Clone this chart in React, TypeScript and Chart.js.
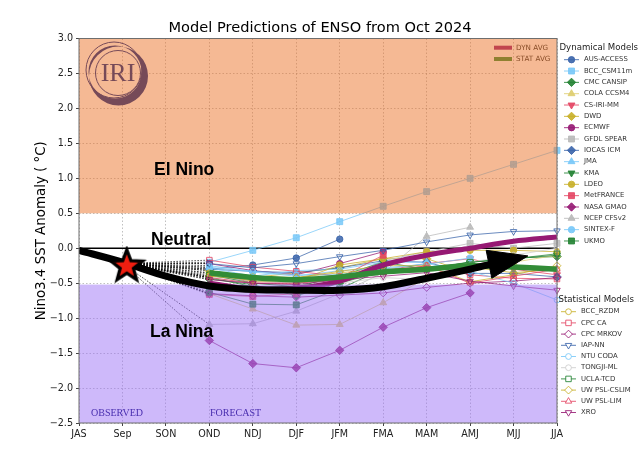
import React, { useEffect, useRef } from "react";
import { Chart, registerables } from "chart.js";
import { drawPoint } from "chart.js/helpers";

Chart.register(...registerables);

const seasons = ["JAS", "Sep", "SON", "OND", "NDJ", "DJF", "JFM", "FMA", "MAM", "AMJ", "MJJ", "JJA"];
const yTicks = [3, 2.5, 2, 1.5, 1, 0.5, 0, -0.5, -1, -1.5, -2, -2.5];
const FIRST_FORECAST = 3;

const observedStar = { x: 1.1, y: -0.25 };
const blackTrend = [
  { x: 0, y: -0.03 }, { x: 1, y: -0.2 }, { x: 2, y: -0.4 }, { x: 3, y: -0.54 }, { x: 4, y: -0.59 },
  { x: 5, y: -0.6 }, { x: 6, y: -0.6 }, { x: 7, y: -0.55 }, { x: 8, y: -0.43 }, { x: 9, y: -0.3 }, { x: 9.45, y: -0.23 },
];
const arrowHead = [
  { x: 9.37, y: -0.03 }, { x: 10.33, y: -0.11 }, { x: 9.5, y: -0.43 }, { x: 9.37, y: -0.03 },
];
const dynAvg = [-0.5, -0.58, -0.57, -0.47, -0.24, -0.1, 0.0, 0.1, 0.16];
const statAvg = [-0.35, -0.42, -0.45, -0.41, -0.34, -0.3, -0.25, -0.27, -0.3];

type N = number | null;
const ausAccess: N[] = [-0.3, -0.24, -0.14, 0.13];
const bccCsm: N[] = [-0.2, -0.03, 0.15, 0.38, 0.6, 0.81, 1.0, 1.2, 1.4];
const cmcCansip: N[] = [-0.44, -0.52, -0.68, -0.5, -0.33, -0.28, -0.2, -0.14, -0.12];
const colaCcsm: N[] = [-0.65, -0.87, -1.1, -1.09, -0.78, -0.42, -0.3, -0.2, -0.1];
const csIri: N[] = [-0.32, -0.5, -0.5, -0.42, -0.32, -0.22, -0.15, -0.3, -0.38];
const dwd: N[] = [-0.32, -0.42, -0.35, -0.28, -0.15, -0.15, -0.35];
const ecmwf: N[] = [-0.22, -0.32, -0.38, -0.22, -0.05];
const gfdl: N[] = [-0.4, -0.47, -0.5, -0.43, -0.18, -0.05, 0.07, 0.0, 0.07];
const iocas: N[] = [-0.3, -0.33, -0.35, -0.28, -0.18, -0.2, -0.36, -0.36, -0.41];
const jma: N[] = [-0.28, -0.4, -0.32, -0.3, -0.2, -0.2];
const kma: N[] = [-0.42, -0.55, -0.55, -0.4, -0.2, -0.3, -0.2, -0.15, -0.1];
const ldeo: N[] = [-0.36, -0.47, -0.47, -0.24, -0.15, -0.05, -0.03, -0.03, -0.05];
const metFrance: N[] = [-0.66, -0.69, -0.65, -0.42, -0.1];
const nasaGmao: N[] = [-1.32, -1.65, -1.71, -1.46, -1.13, -0.85, -0.64];
const ncep: N[] = [-1.09, -1.08, -0.9, -0.65, -0.35, 0.17, 0.3];
const sintex: N[] = [-0.27, -0.34, -0.4, -0.32, -0.28, -0.23, -0.14];
const ukmo: N[] = [-0.63, -0.8, -0.81, -0.58, -0.3];

const bccRzdm: N[] = [-0.35, -0.4, -0.42, -0.35, -0.3, -0.28, -0.27, -0.35, -0.3];
const cpcCa: N[] = [-0.17, -0.27, -0.33, -0.4, -0.33, -0.25, -0.38, -0.43, -0.44];
const cpcMrkov: N[] = [-0.65, -0.68, -0.7, -0.67, -0.64, -0.56, -0.5, -0.47, -0.42];
const iapNn: N[] = [-0.22, -0.28, -0.22, -0.12, -0.03, 0.09, 0.19, 0.24, 0.25];
const ntuCoda: N[] = [-0.25, -0.33, -0.38, -0.38, -0.3, -0.22, -0.33, -0.5, -0.74];
const tongji: N[] = [-0.42, -0.5, -0.53, -0.5, -0.42, -0.45, -0.2, -0.1, 0.0];
const uclaTcd: N[] = [-0.38, -0.5, -0.55, -0.47, -0.32, -0.3, -0.2, -0.15, -0.08];
const uwCslim: N[] = [-0.4, -0.45, -0.42, -0.33, -0.25, -0.25, -0.48, -0.38, -0.25];
const uwLim: N[] = [-0.42, -0.5, -0.5, -0.45, -0.35, -0.25, -0.5, -0.4, -0.3];
const xro: N[] = [-0.45, -0.5, -0.52, -0.45, -0.4, -0.35, -0.47, -0.54, -0.6];

const BLUE = "rgba(58,100,170,A)";
const SKY = "rgba(120,200,248,A)";
const GREEN = "rgba(34,130,50,A)";
const KHAKI = "rgba(222,205,110,A)";
const RED = "rgba(228,70,100,A)";
const GOLD = "rgba(200,175,40,A)";
const PURPLE = "rgba(150,25,115,A)";
const GRAY = "rgba(185,185,185,A)";
const LGRAY = "rgba(205,205,205,A)";

type Model = { name: string; values: N[]; color: string; style: string; down?: boolean };
const dynamicalModels: Model[] = [
  { name: "AUS-ACCESS", values: ausAccess, color: BLUE, style: "circle" },
  { name: "BCC_CSM11m", values: bccCsm, color: SKY, style: "rect" },
  { name: "CMC CANSIP", values: cmcCansip, color: GREEN, style: "rectRot" },
  { name: "COLA CCSM4", values: colaCcsm, color: KHAKI, style: "triangle" },
  { name: "CS-IRI-MM", values: csIri, color: RED, style: "triangle", down: true },
  { name: "DWD", values: dwd, color: GOLD, style: "rectRot" },
  { name: "ECMWF", values: ecmwf, color: PURPLE, style: "circle" },
  { name: "GFDL SPEAR", values: gfdl, color: GRAY, style: "rect" },
  { name: "IOCAS ICM", values: iocas, color: BLUE, style: "rectRot" },
  { name: "JMA", values: jma, color: SKY, style: "triangle" },
  { name: "KMA", values: kma, color: GREEN, style: "triangle", down: true },
  { name: "LDEO", values: ldeo, color: GOLD, style: "circle" },
  { name: "MetFRANCE", values: metFrance, color: RED, style: "rect" },
  { name: "NASA GMAO", values: nasaGmao, color: PURPLE, style: "rectRot" },
  { name: "NCEP CFSv2", values: ncep, color: GRAY, style: "triangle" },
  { name: "SINTEX-F", values: sintex, color: SKY, style: "circle" },
  { name: "UKMO", values: ukmo, color: GREEN, style: "rect" },
];
const statisticalModels: Model[] = [
  { name: "BCC_RZDM", values: bccRzdm, color: GOLD, style: "circle" },
  { name: "CPC CA", values: cpcCa, color: RED, style: "rect" },
  { name: "CPC MRKOV", values: cpcMrkov, color: PURPLE, style: "rectRot" },
  { name: "IAP-NN", values: iapNn, color: BLUE, style: "triangle", down: true },
  { name: "NTU CODA", values: ntuCoda, color: SKY, style: "circle" },
  { name: "TONGJI-ML", values: tongji, color: LGRAY, style: "circle" },
  { name: "UCLA-TCD", values: uclaTcd, color: GREEN, style: "rect" },
  { name: "UW PSL-CSLIM", values: uwCslim, color: GOLD, style: "rectRot" },
  { name: "UW PSL-LIM", values: uwLim, color: RED, style: "triangle" },
  { name: "XRO", values: xro, color: PURPLE, style: "triangle", down: true },
];

const alpha = (c: string, a: number) => c.replace("A", String(a));
const SANS = "'DejaVu Sans'";
const markerSize = (style: string, open: boolean) => {
  const base = style === "circle" ? 3.2 : style === "rect" ? 4.2 : style === "rectRot" ? 4.2 : 4;
  return open ? base - 0.3 : base;
};

function makeStar() {
  const c = document.createElement("canvas");
  c.width = 40;
  c.height = 40;
  const g = c.getContext("2d")!;
  g.beginPath();
  for (let i = 0; i < 10; i++) {
    const r = i % 2 === 0 ? 16.5 : 7;
    const a = -Math.PI / 2 + (i * Math.PI) / 5;
    const px = 20 + r * Math.cos(a);
    const py = 20.5 + r * Math.sin(a);
    if (i === 0) g.moveTo(px, py);
    else g.lineTo(px, py);
  }
  g.closePath();
  g.fillStyle = "#f01e10";
  g.strokeStyle = "#000";
  g.lineWidth = 3.2;
  g.lineJoin = "miter";
  g.fill();
  g.stroke();
  return c;
}

function modelDataset(m: Model, open: boolean) {
  const pts: { x: number; y: number }[] = [{ x: 1, y: -0.22 }];
  m.values.forEach((v, i) => {
    if (v !== null) pts.push({ x: FIRST_FORECAST + i, y: v });
  });
  return {
    label: m.name,
    data: pts,
    borderColor: alpha(m.color, 0.75),
    borderWidth: 1,
    tension: 0,
    clip: false as const,
    pointStyle: m.style,
    pointRotation: m.down ? 180 : 0,
    pointRadius: (c: any) => (c.dataIndex === 0 ? 0 : markerSize(m.style, open)),
    pointBorderWidth: 1,
    pointBorderColor: alpha(m.color, 0.85),
    pointBackgroundColor: open ? "rgba(0,0,0,0)" : alpha(m.color, 0.85),
    segment: {
      borderColor: (c: any) => (c.p0DataIndex === 0 ? "rgba(0,0,0,0.7)" : undefined),
      borderDash: (c: any) => (c.p0DataIndex === 0 ? [1.5, 1.5] : undefined),
    },
  };
}

const avgDataset = (label: string, values: number[], color: string, width: number) => ({
  label,
  data: values.map((y, i) => ({ x: FIRST_FORECAST + i, y })),
  borderColor: color,
  borderWidth: width,
  pointRadius: 0,
  tension: 0.3,
  clip: false as const,
});

function drawLogo(g: CanvasRenderingContext2D) {
  const c = "#764a58";
  g.save();
  g.fillStyle = c;
  g.strokeStyle = c;
  g.beginPath();
  g.arc(118.5, 76, 29.5, 0, Math.PI * 2);
  g.moveTo(141.5, 72);
  g.arc(115, 72, 26.5, 0, Math.PI * 2);
  g.fill("evenodd");
  g.lineWidth = 1;
  g.beginPath();
  g.arc(114, 70, 28, 0, Math.PI * 2);
  g.stroke();
  g.beginPath();
  g.arc(118, 73, 22.5, 0, Math.PI * 2);
  g.stroke();
  g.font = "26px 'Liberation Serif'";
  g.textAlign = "center";
  g.textBaseline = "middle";
  g.fillText("IRI", 118, 74);
  g.restore();
}

const overlayPlugin = {
  id: "enso-overlay",
  beforeDatasetDraw(chart: any, args: any) {
    if (chart.data.datasets[args.index].label !== "Trend") return;
    const g = chart.ctx as CanvasRenderingContext2D;
    const { x, y } = chart.scales;
    const left = x.getPixelForValue(0);
    const right = x.getPixelForValue(11);
    const w = right - left;
    // average legend, covered by the orange band as in the reference
    g.save();
    g.lineWidth = 4;
    [["DYN AVG", "rgb(150,25,115)", 47.7], ["STAT AVG", "rgb(50,140,55)", 59]].forEach(([t, col, py]: any) => {
      g.strokeStyle = col;
      g.beginPath();
      g.moveTo(494, py);
      g.lineTo(512, py);
      g.stroke();
      g.fillStyle = "#222";
      g.font = `7.2px ${SANS}`;
      g.textBaseline = "middle";
      g.fillText(t, 516, py);
    });
    g.fillStyle = "rgba(235,115,41,0.5)";
    g.fillRect(left, y.getPixelForValue(3), w, y.getPixelForValue(0.5) - y.getPixelForValue(3));
    g.fillStyle = "rgba(157,115,245,0.5)";
    g.fillRect(left, y.getPixelForValue(-0.52), w, y.getPixelForValue(-2.5) - y.getPixelForValue(-0.52));
    g.restore();
    drawLogo(g);
  },
};

const annotationPlugin = {
  id: "enso-text",
  afterDraw(chart: any) {
    const g = chart.ctx as CanvasRenderingContext2D;
    const { x, y } = chart.scales;
    g.save();
    g.strokeStyle = "#6e6e6e";
    g.lineWidth = 1;
    g.strokeRect(x.getPixelForValue(0), y.getPixelForValue(3), x.getPixelForValue(11) - x.getPixelForValue(0), y.getPixelForValue(-2.5) - y.getPixelForValue(3));

    g.fillStyle = "#000";
    g.textBaseline = "middle";
    g.textAlign = "center";
    g.font = `14.6px ${SANS}`;
    g.fillText("Model Predictions of ENSO from Oct 2024", 320, 28);

    g.textAlign = "left";
    g.font = "bold 17.5px 'Liberation Sans'";
    g.fillText("El Nino", 154, 170.5);
    g.fillText("Neutral", 151, 240);
    g.fillText("La Nina", 150, 332);
    g.fillStyle = "#4a2fb0";
    g.font = "10px 'Liberation Serif'";
    g.fillText("OBSERVED", 91, 413);
    g.fillText("FORECAST", 210, 413);

    const legend = (title: string, tx: number, ty: number, models: Model[], y0: number, step: number, hx: number, open: boolean) => {
      g.fillStyle = "#222";
      g.font = `8.6px ${SANS}`;
      g.textBaseline = "middle";
      g.textAlign = "left";
      g.fillText(title, tx, ty);
      models.forEach((m, i) => {
        const py = y0 + i * step;
        g.strokeStyle = alpha(m.color, 0.85);
        g.lineWidth = 1;
        g.beginPath();
        g.moveTo(hx, py);
        g.lineTo(hx + 15, py);
        g.stroke();
        g.fillStyle = open ? "#fff" : alpha(m.color, 0.9);
        drawPoint(g, { pointStyle: m.style as any, rotation: m.down ? 180 : 0, radius: markerSize(m.style, open), borderWidth: 1 }, hx + 7.5, py);
        g.fillStyle = "#333";
        g.font = `6.9px ${SANS}`;
        g.fillText(m.name, hx + 20, py);
      });
    };
    legend("Dynamical Models", 559.5, 48, dynamicalModels, 59.7, 11.33, 564, false);
    legend("Statistical Models", 558.5, 300, statisticalModels, 311.7, 11.2, 561, true);
    g.restore();
  },
};

export default function App() {
  const ref = useRef<HTMLCanvasElement>(null);
  useEffect(() => {
    const models = [
      ...dynamicalModels.map((m) => modelDataset(m, false)),
      ...statisticalModels.map((m) => modelDataset(m, true)),
    ];
    const drawSequence: any[] = [
      {
        label: "Zero",
        data: [{ x: 0, y: 0 }, { x: 11, y: 0 }],
        borderColor: "#000",
        borderWidth: 1.6,
        pointRadius: 0,
      },
      ...models,
      avgDataset("DYN AVG", dynAvg, "rgb(150,25,115)", 5),
      avgDataset("STAT AVG", statAvg, "rgb(50,140,55)", 5.5),
      {
        label: "Trend",
        data: blackTrend,
        borderColor: "#000",
        borderWidth: 7,
        pointRadius: 0,
        tension: 0.3,
        borderCapStyle: "butt",
      },
      {
        label: "Arrow",
        data: arrowHead,
        borderColor: "#000",
        backgroundColor: "#000",
        borderWidth: 1,
        pointRadius: 0,
        tension: 0,
        fill: "shape",
      },
      {
        label: "Observed",
        data: [observedStar],
        pointStyle: makeStar(),
        pointRadius: 20,
        showLine: false,
      },
    ];
    // Chart.js paints the lowest "order" last
    drawSequence.forEach((d, i) => (d.order = drawSequence.length - i));

    const gridLines = { color: "rgba(60,60,60,0.32)", tickLength: 3, tickColor: "#444", tickBorderDash: [] };
    const chart = new Chart(ref.current!, {
      type: "line",
      data: { datasets: drawSequence },
      plugins: [overlayPlugin, annotationPlugin],
      options: {
        animation: false,
        responsive: false,
        devicePixelRatio: 1,
        layout: { padding: { left: 0, right: 84, top: 38.5, bottom: 0 } },
        plugins: {
          legend: { display: false },
          tooltip: { enabled: false },
          title: { display: false },
        },
        scales: {
          x: {
            type: "linear",
            min: 0,
            max: 11,
            afterFit: (s: any) => {
              s.height = 31;
            },
            afterBuildTicks: (s: any) => {
              s.ticks = seasons.map((_, i) => ({ value: i }));
            },
            ticks: {
              autoSkip: false,
              maxRotation: 0,
              color: "#222",
              padding: 3,
              font: { family: SANS, size: 9.6 },
              callback: (v: any) => seasons[v] ?? "",
            },
            border: { display: false, dash: [1.5, 2] },
            grid: gridLines,
          },
          y: {
            min: -2.5,
            max: 3,
            afterFit: (s: any) => {
              s.width = 79;
            },
            afterBuildTicks: (s: any) => {
              s.ticks = yTicks.map((value) => ({ value }));
            },
            ticks: {
              autoSkip: false,
              color: "#222",
              padding: 3,
              font: { family: SANS, size: 9.6 },
              callback: (v: any) => Number(v).toFixed(1).replace("-", "\u2212"),
            },
            title: {
              display: true,
              text: "Nino3.4 SST Anomaly ( \u00b0C)",
              color: "#000",
              font: { family: SANS, size: 13.4 },
              padding: { top: 33, bottom: 0 },
            },
            border: { display: false, dash: [1.5, 2] },
            grid: gridLines,
          },
        },
      } as any,
    });
    return () => chart.destroy();
  }, []);
  return <canvas ref={ref} width={641} height={454} style={{ position: "fixed", left: 0, top: 0, background: "#fff" }} />;
}
